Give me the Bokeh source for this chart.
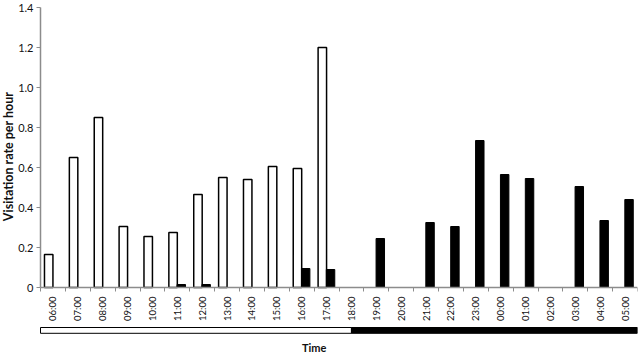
import math
from bokeh.plotting import figure
from bokeh.models import FixedTicker, Range1d, Label, ColumnDataSource
from bokeh.embed import file_html
from bokeh.resources import INLINE

# ---- data ----
hours = ["06:00", "07:00", "08:00", "09:00", "10:00", "11:00", "12:00", "13:00",
         "14:00", "15:00", "16:00", "17:00", "18:00", "19:00", "20:00", "21:00",
         "22:00", "23:00", "00:00", "01:00", "02:00", "03:00", "04:00", "05:00"]
day_rate = [0.165, 0.65, 0.85, 0.305, 0.255, 0.275, 0.465, 0.55, 0.54, 0.605, 0.595, 1.2,
            0, 0, 0, 0, 0, 0, 0, 0, 0, 0, 0, 0]
night_rate = [0, 0, 0, 0, 0, 0.015, 0.015, 0, 0, 0, 0.095, 0.09,
              0, 0.245, 0, 0.325, 0.305, 0.735, 0.565, 0.545, 0, 0.505, 0.335, 0.44]
y_ticks = [0, 0.2, 0.4, 0.6, 0.8, 1.0, 1.2, 1.4]
y_tick_labels = ["0", "0.2", "0.4", "0.6", "0.8", "1.0", "1.2", "1.4"]
light_period_hours = 12.5   # light phase from 06:00 lasting 12.5 h
y_label = "Visitation rate per hour"
x_label = "Time"

FONT = "Lato"
AXIS_GREY = "#8c8c8c"
TEXT = "#111111"

n = len(hours)
centers = [i + 0.5 for i in range(n)]
BAR_W = 0.34
PX_X = 24.875            # pixels per category
PX_Y = 200.0             # pixels per unit of rate
LEFT_PAD = 40 / PX_X     # room for the y axis inside the frame
Y_TOP = 1.4 + 7 / PX_Y
Y_BOTTOM = Y_TOP - 353 / PX_Y

day_src = ColumnDataSource(dict(
    x=[c - 0.17 for c, v in zip(centers, day_rate) if v > 0],
    top=[v for v in day_rate if v > 0]))
night_src = ColumnDataSource(dict(
    x=[c + 0.16 for c, v in zip(centers, night_rate) if v > 0],
    top=[v for v in night_rate if v > 0]))

p = figure(width=640, height=353, x_range=Range1d(-LEFT_PAD, n),
           y_range=Range1d(Y_BOTTOM, Y_TOP),
           output_backend="svg", toolbar_location=None,
           min_border_left=0, min_border_right=3, min_border_top=0, min_border_bottom=0)
p.outline_line_color = None
p.xgrid.visible = False
p.ygrid.visible = False
p.background_fill_color = "white"
p.border_fill_color = "white"

p.vbar(x="x", top="top", bottom=0, width=BAR_W, source=day_src,
       fill_color="white", line_color="black", line_width=1.5)
p.vbar(x="x", top="top", bottom=0, width=BAR_W, source=night_src,
       fill_color="black", line_color="black", line_width=1)

# light / dark period bar
p.quad(left=[0, light_period_hours], right=[light_period_hours, n],
       top=[-0.2, -0.2], bottom=[-0.229, -0.229],
       fill_color=["white", "black"], line_color="black", line_width=1)

# x axis at y=0
xa = p.xaxis[0]
xa.fixed_location = 0
xa.bounds = (0, n)
xa.ticker = FixedTicker(ticks=centers, minor_ticks=list(range(n + 1)))
xa.major_label_overrides = {c: h for c, h in zip(centers, hours)}
xa.major_label_orientation = math.pi / 2
xa.major_tick_line_color = None
xa.major_tick_out = 0
xa.major_tick_in = 0
xa.minor_tick_out = 4
xa.minor_tick_in = 0
xa.minor_tick_line_color = AXIS_GREY
xa.axis_line_color = AXIS_GREY
xa.axis_line_width = 1.5
xa.major_label_standoff = 5
xa.major_label_text_font = FONT
xa.major_label_text_font_size = "9.5px"
xa.major_label_text_color = TEXT

# y axis at x=0
ya = p.yaxis[0]
ya.fixed_location = 0
ya.bounds = (0, 1.4)
ya.ticker = FixedTicker(ticks=y_ticks, minor_ticks=[])
ya.major_label_overrides = {t: s for t, s in zip(y_ticks, y_tick_labels)}
ya.major_tick_out = 4
ya.major_tick_in = 0
ya.major_tick_line_color = AXIS_GREY
ya.axis_line_color = AXIS_GREY
ya.axis_line_width = 1.5
ya.major_label_standoff = 3
ya.major_label_text_font = FONT
ya.major_label_text_font_size = "11px"
ya.major_label_text_color = TEXT

p.add_layout(Label(x=-LEFT_PAD + 8 / PX_X, y=0.655, text=y_label, angle=math.pi / 2,
                   text_align="center", text_baseline="middle", text_font=FONT,
                   text_font_style="bold", text_font_size="12.5px", text_color=TEXT))
p.add_layout(Label(x=11.0, y=-0.266, text=x_label, text_align="center",
                   text_baseline="top", text_font=FONT, text_font_style="bold",
                   text_font_size="11px", text_color=TEXT))

open("out.html", "w").write(file_html(p, INLINE))
